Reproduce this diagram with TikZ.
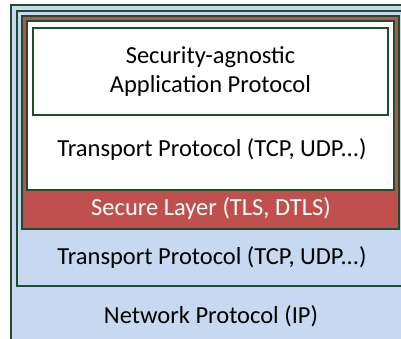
\documentclass[tikz,border=0pt]{standalone}
\usepackage{fontspec}
\setmainfont{Carlito}
\definecolor{layerblue}{HTML}{C6D9F1}
\definecolor{layerred}{HTML}{C0504D}
\definecolor{layerline}{HTML}{1E4D2B}
\begin{document}
\begin{tikzpicture}[
			x=1pt, y=-1pt,
			layer box/.style={draw=layerline, line width=1.5pt, anchor=north west, inner sep=0pt, outer sep=0pt},
			layer text/.style={font=\fontsize{24.5}{29}\selectfont, align=center, inner sep=0pt}
			]
			\useasboundingbox (0,0) rectangle (401,339);
			\clip (0,0) rectangle (401,339);
			% nested layers, outermost first
			\node[layer box, fill=layerblue, minimum width=401pt, minimum height=345pt] (net) at (11,5) {};
			\node[layer box, fill=layerblue, minimum width=388pt, minimum height=275pt] (tcpout) at (17,11) {};
			\node[layer box, fill=layerred, minimum width=377pt, minimum height=213pt] (sec) at (22,16) {};
			\node[layer box, fill=white, minimum width=367pt, minimum height=169pt] (tcpin) at (27,21) {};
			\node[layer box, fill=white, minimum width=355pt, minimum height=87pt] (app) at (33,28) {};
			
			\node[layer text] (apptext) at (210.5,72) {Security-agnostic\\Application Protocol};
			\node[layer text] (tcpintext) at (212,150) {Transport Protocol (TCP, UDP...)};
			\node[layer text, text=white] (sectext) at (211,209) {Secure Layer (TLS, DTLS)};
			\node[layer text] (tcpouttext) at (212,258) {Transport Protocol (TCP, UDP...)};
			\node[layer text] (nettext) at (211,316) {Network Protocol (IP)};
		\end{tikzpicture}
\end{document}
